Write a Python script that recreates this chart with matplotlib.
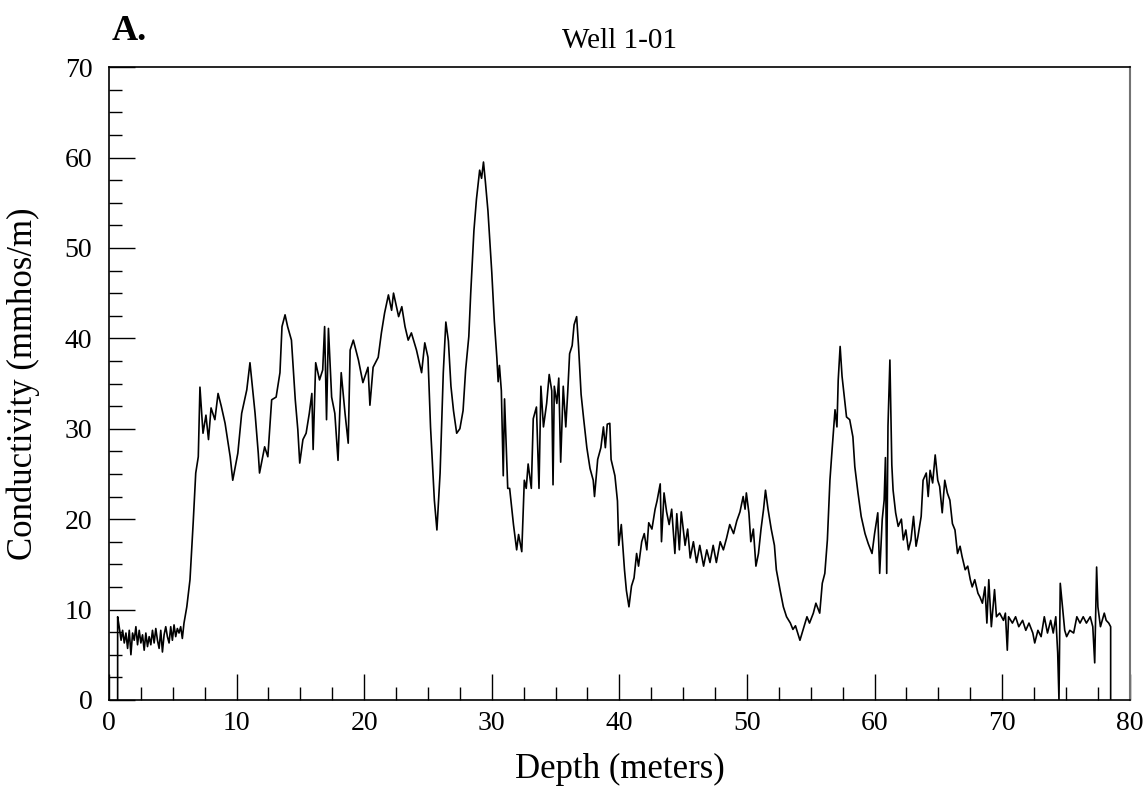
import matplotlib
matplotlib.use('Agg')
import matplotlib.pyplot as plt
from matplotlib.ticker import MultipleLocator

plt.rcParams['font.family'] = ['Liberation Serif', 'DejaVu Serif']

depth = [0.68, 0.68, 0.8, 0.95, 1.07, 1.2, 1.33, 1.46, 1.59, 1.72, 1.85, 1.98, 2.11, 2.24, 2.37, 2.5,
         2.63, 2.76, 2.89, 3.02, 3.15, 3.28, 3.41, 3.54, 3.67, 3.8, 3.93, 4.06, 4.19, 4.32, 4.45, 4.58,
         4.71, 4.84, 4.97, 5.1, 5.23, 5.36, 5.49, 5.62, 5.75, 5.88,
         6.1, 6.35, 6.6, 6.8, 7.0, 7.13, 7.37, 7.6, 7.8, 8.0, 8.3, 8.55, 8.8, 9.1, 9.5, 9.7,
         10.1, 10.4, 10.8, 11.05, 11.45, 11.7, 11.8, 12.2, 12.45, 12.75, 13.1, 13.4, 13.56, 13.8,
         14.0, 14.3, 14.6, 14.8, 14.95, 15.2, 15.45, 15.7, 15.9, 16.0, 16.2, 16.5, 16.75, 16.9,
         17.05, 17.2, 17.45, 17.7, 17.95, 18.2, 18.5, 18.75, 18.9, 19.15, 19.55, 19.9, 20.3,
         20.45, 20.7, 21.1, 21.35, 21.6, 21.9, 22.15, 22.3, 22.7, 22.95, 23.2, 23.45, 23.7, 24.1,
         24.5, 24.75, 25.0, 25.2, 25.5, 25.7, 25.95, 26.2, 26.4, 26.6, 26.8, 27.0, 27.25, 27.5,
         27.75, 27.95, 28.2, 28.35, 28.6, 28.8, 29.05, 29.2, 29.35, 29.5, 29.7, 30.0, 30.2, 30.4,
         30.5, 30.6, 30.75, 30.9, 31.0, 31.25, 31.4, 31.7, 31.95, 32.1, 32.35, 32.55, 32.7, 32.85,
         33.1, 33.25, 33.5, 33.7, 33.85, 34.05, 34.3, 34.5, 34.7, 34.8, 34.9, 35.1, 35.25, 35.4,
         35.6, 35.8, 35.95, 36.1, 36.3, 36.45, 36.65, 36.8, 37.0, 37.2, 37.45, 37.7, 37.95, 38.05,
         38.3, 38.55, 38.75, 38.9, 39.05, 39.25, 39.35, 39.65, 39.85, 39.95, 40.15, 40.4, 40.55,
         40.75, 40.95, 41.15, 41.35, 41.5, 41.75, 41.95, 42.15, 42.3, 42.55, 42.8, 42.95, 43.2,
         43.3, 43.5, 43.7, 43.9, 44.1, 44.35, 44.5, 44.7, 44.85, 45.15, 45.35, 45.55, 45.8, 46.05,
         46.3, 46.6, 46.85, 47.1, 47.35, 47.6, 47.9, 48.15, 48.4, 48.65, 48.95, 49.2, 49.45, 49.7,
         49.85, 49.95, 50.15, 50.3, 50.5, 50.7, 50.9, 51.1, 51.3, 51.45, 51.65, 51.9, 52.15, 52.3,
         52.6, 52.85, 53.1, 53.4, 53.6, 53.8, 54.15, 54.4, 54.7, 54.9, 55.2, 55.4, 55.7, 55.9,
         56.1, 56.3, 56.5, 56.65, 56.9, 57.05, 57.15, 57.3, 57.45, 57.6, 57.8, 58.05, 58.3, 58.45,
         58.7, 58.95, 59.25, 59.5, 59.8, 60.0, 60.25, 60.4, 60.6, 60.75, 60.85, 60.95, 61.05, 61.2,
         61.35, 61.45, 61.65, 61.85, 62.1, 62.25, 62.45, 62.65, 62.85, 63.05, 63.25, 63.4, 63.65,
         63.8, 64.05, 64.2, 64.35, 64.55, 64.75, 64.95, 65.1, 65.3, 65.5, 65.7, 65.9, 66.1, 66.3,
         66.5, 66.7, 66.85, 67.1, 67.3, 67.5, 67.65, 67.85, 68.1, 68.25, 68.45, 68.65, 68.8, 68.95,
         69.15, 69.4, 69.55, 69.8, 70.1, 70.25, 70.4, 70.5, 70.8, 71.05, 71.3, 71.6, 71.85, 72.1,
         72.4, 72.55, 72.8, 73.05, 73.3, 73.55, 73.8, 74.0, 74.2, 74.35, 74.45, 74.55, 74.7, 74.9,
         75.05, 75.3, 75.6, 75.85, 76.1, 76.35, 76.6, 76.9, 77.1, 77.25, 77.4, 77.5, 77.7, 78.0,
         78.15, 78.35, 78.5, 78.5]

conductivity = [0.0, 9.2, 8.1, 6.6, 7.7, 6.3, 7.4, 5.7, 7.7, 5.0, 7.4, 6.6, 8.1, 6.1, 7.7, 6.3,
                7.2, 5.5, 7.4, 5.9, 7.0, 6.1, 7.7, 6.3, 7.9, 6.6, 5.7, 7.7, 5.3, 7.2, 8.1, 7.0,
                6.3, 8.1, 6.6, 8.3, 7.0, 7.9, 7.4, 8.1, 6.8, 8.5,
                10.3, 13.3, 19.6, 25.1, 26.9, 34.6, 29.5, 31.5, 28.8, 32.3, 31.0, 33.9, 32.5, 30.6, 26.9, 24.3,
                27.3, 31.7, 34.3, 37.3, 31.7, 27.3, 25.1, 28.0, 26.9, 33.2, 33.5, 36.2, 41.3, 42.6,
                41.3, 39.8, 33.2, 29.9, 26.2, 28.8, 29.5, 31.7, 33.9, 27.7, 37.3, 35.4, 36.5, 41.3,
                31.0, 41.1, 33.5, 31.7, 26.5, 36.2, 31.7, 28.4, 38.7, 39.8, 37.6, 35.1, 36.8,
                32.6, 36.8, 37.9, 40.6, 42.8, 44.8, 43.1, 45.0, 42.4, 43.5, 41.3, 39.8, 40.6, 38.7,
                36.2, 39.5, 37.9, 30.2, 22.1, 18.8, 25.1, 36.2, 41.8, 39.7, 34.7, 32.0, 29.5, 30.0,
                32.0, 36.5, 40.2, 45.0, 51.9, 55.4, 58.6, 57.7, 59.5, 57.3, 54.1, 47.3, 41.9, 37.8,
                35.2, 37.0, 34.2, 24.8, 33.3, 23.4, 23.4, 19.4, 16.6, 18.3, 16.4, 24.3, 23.4, 26.1,
                23.4, 31.1, 32.4, 23.4, 34.7, 30.2, 32.8, 36.0, 34.2, 23.8, 34.7, 32.8, 35.6, 26.3,
                34.7, 30.2, 34.0, 38.3, 39.2, 41.5, 42.4, 39.1, 33.8, 31.1, 27.9, 25.6, 24.3, 22.5,
                26.6, 27.9, 30.2, 27.9, 30.5, 30.6, 26.6, 24.8, 22.0, 17.1, 19.4, 14.4, 12.1,
                10.3, 12.6, 13.5, 16.2, 14.8, 17.5, 18.4, 16.6, 19.6, 18.9, 21.1, 22.0, 23.9,
                17.5, 22.9, 20.8, 19.4, 21.1, 16.2, 20.6, 16.6, 20.8, 17.1, 18.9, 15.7, 17.5, 15.2,
                17.1, 14.8, 16.6, 15.2, 17.1, 15.2, 17.5, 16.6, 17.9, 19.4, 18.4, 19.8, 20.8, 22.5,
                21.1, 22.9, 20.7, 17.5, 18.9, 14.8, 16.2, 18.9, 21.1, 23.2, 21.1, 18.9, 17.1, 14.4,
                12.1, 10.3, 9.2, 8.5, 7.8, 8.2, 6.6, 7.8, 9.2, 8.5, 9.6, 10.7, 9.6, 12.9,
                14.0, 17.7, 24.3, 27.3, 32.1, 30.2, 35.4, 39.1, 35.8, 33.9, 31.3, 31.0, 29.1, 25.8,
                22.9, 20.3, 18.4, 17.3, 16.2, 18.4, 20.7, 14.0, 20.0, 22.1, 26.8, 14.0, 30.3, 37.6,
                26.0, 23.2, 20.7, 19.2, 20.0, 17.7, 18.8, 16.6, 17.7, 20.3, 17.0, 18.1, 20.3,
                24.3, 25.1, 22.5, 25.4, 24.0, 27.1, 24.3, 23.6, 20.7, 24.3, 22.9, 22.1, 19.5, 18.8,
                16.2, 17.0, 15.9, 14.4, 14.8, 13.3, 12.5, 13.3, 11.8, 11.4, 10.7, 12.5, 8.5, 13.3,
                8.1, 12.2, 9.2, 9.6, 8.8, 9.6, 5.5, 9.2, 8.5, 9.2, 8.1, 8.8, 7.7, 8.5,
                7.4, 6.3, 7.7, 7.0, 9.2, 7.4, 8.8, 7.4, 9.2, 5.2, 0.0, 12.9, 10.7, 7.7,
                7.0, 7.7, 7.4, 9.2, 8.5, 9.2, 8.5, 9.2, 8.1, 4.1, 14.7, 10.3, 8.1, 9.6,
                8.8, 8.5, 8.1, 0.0]

fig = plt.figure(figsize=(11.47, 7.99), dpi=100)
ax = fig.add_axes([0.095, 0.124, 0.89, 0.792])

ax.plot(depth, conductivity, color='black', lw=1.2)

ax.set_xlim(0, 80)
ax.set_ylim(0, 70)
ax.xaxis.set_major_locator(MultipleLocator(10))
ax.xaxis.set_minor_locator(MultipleLocator(2.5))
ax.yaxis.set_major_locator(MultipleLocator(10))
ax.yaxis.set_minor_locator(MultipleLocator(2.5))
ax.tick_params(which='both', direction='in', top=False, right=False, labelsize=20, width=1)
ax.tick_params(which='major', length=18.5)
ax.tick_params(which='minor', length=9.3)
ax.tick_params(axis='x', pad=8)
ax.tick_params(axis='y', pad=12)

for s in ['left', 'bottom', 'top']:
    ax.spines[s].set_linewidth(1.2)
ax.spines['right'].set_color('0.45')
ax.spines['right'].set_linewidth(1.5)

ax.set_xlabel('Depth (meters)', fontsize=25, labelpad=12)
ax.set_ylabel('Conductivity (mmhos/m)', fontsize=25, labelpad=18)
ax.set_title('Well 1-01', fontsize=21, pad=14)
fig.text(0.097, 0.96, 'A.', fontsize=26, fontweight='bold', va='center', ha='left')

fig.savefig('out.png', dpi=100)
